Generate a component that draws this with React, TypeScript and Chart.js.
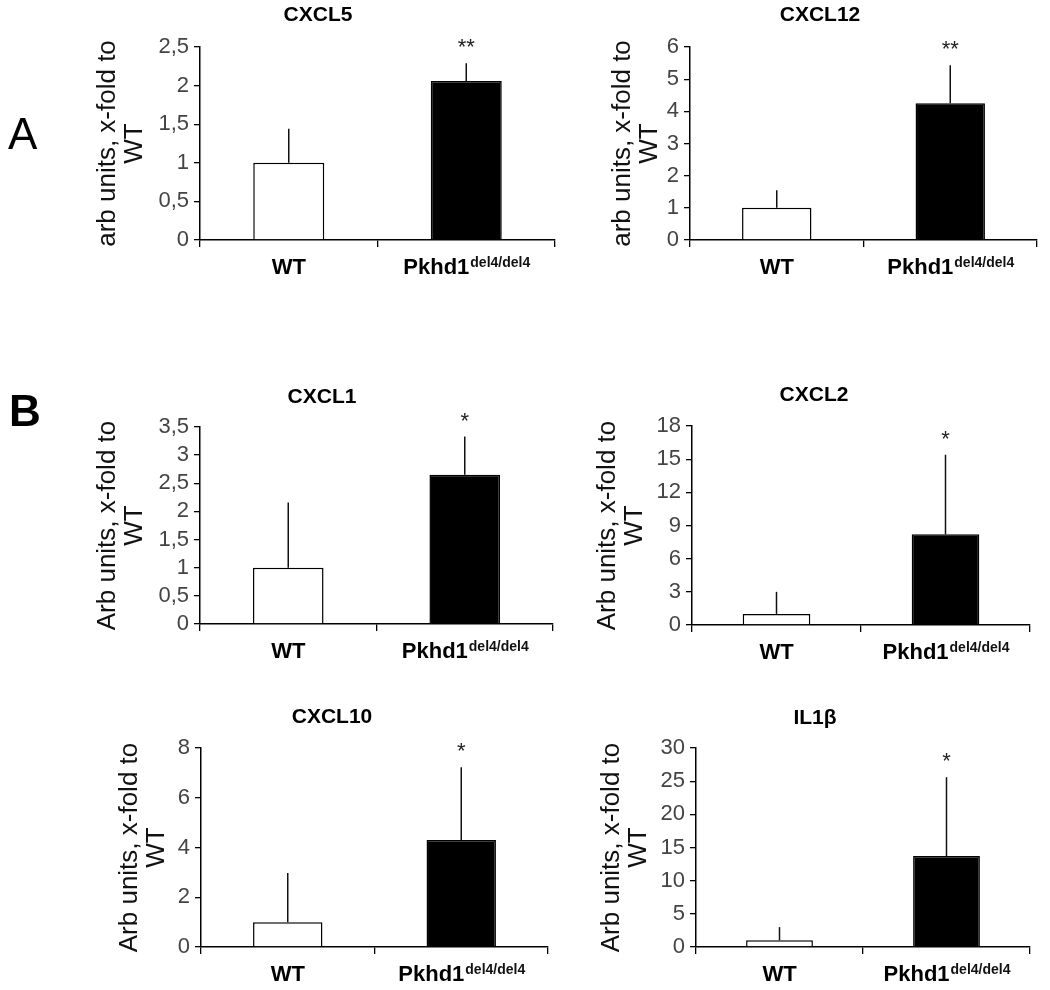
import React, { useEffect, useRef } from 'react';
import { Chart, registerables } from 'chart.js';

Chart.register(...registerables);

const FONT = "'Liberation Sans', Arial, Helvetica, sans-serif";

// ---------- data ----------
const groups = ['WT', 'Pkhd1'];
const groupSup = ['', 'del4/del4'];

const yTitleA = ['arb units, x-fold to', 'WT'];
const yTitleB = ['Arb units, x-fold to', 'WT'];

const cxcl5Mean = [1.0, 2.06];
const cxcl5Err = [0.44, 0.23];
const cxcl5Stars = ['', '**'];
const cxcl5Ticks = ['0', '0,5', '1', '1,5', '2', '2,5'];

const cxcl12Mean = [1.0, 4.25];
const cxcl12Err = [0.55, 1.18];
const cxcl12Stars = ['', '**'];
const cxcl12Ticks = ['0', '1', '2', '3', '4', '5', '6'];

const cxcl1Mean = [1.0, 2.65];
const cxcl1Err = [1.16, 0.68];
const cxcl1Stars = ['', '*'];
const cxcl1Ticks = ['0', '0,5', '1', '1,5', '2', '2,5', '3', '3,5'];

const cxcl2Mean = [1.0, 8.2];
const cxcl2Err = [2.0, 7.2];
const cxcl2Stars = ['', '*'];
const cxcl2Ticks = ['0', '3', '6', '9', '12', '15', '18'];

const cxcl10Mean = [1.0, 4.3];
const cxcl10Err = [1.97, 2.93];
const cxcl10Stars = ['', '*'];
const cxcl10Ticks = ['0', '2', '4', '6', '8'];

const il1bMean = [1.0, 13.7];
const il1bErr = [2.0, 11.9];
const il1bStars = ['', '*'];
const il1bTicks = ['0', '5', '10', '15', '20', '25', '30'];

// ---------- layout (page coordinates) ----------
type Panel = {
  title: string;
  yTitle: string[];
  mean: number[];
  err: number[];
  stars: string[];
  ticks: string[];
  box: { left: number; top: number; w: number; h: number };
  area: { l: number; r: number; t: number; b: number };
  titleC: { x: number; y: number };
  yTitleX: number;
  xh: number;
};

const panels: Panel[] = [
  {
    title: 'CXCL5', yTitle: yTitleA, mean: cxcl5Mean, err: cxcl5Err, stars: cxcl5Stars, ticks: cxcl5Ticks,
    box: { left: 0, top: 0, w: 600, h: 300 }, area: { l: 200, r: 555, t: 47, b: 240 },
    titleC: { x: 318, y: 15 }, yTitleX: 108, xh: 45,
  },
  {
    title: 'CXCL12', yTitle: yTitleA, mean: cxcl12Mean, err: cxcl12Err, stars: cxcl12Stars, ticks: cxcl12Ticks,
    box: { left: 560, top: 0, w: 490, h: 300 }, area: { l: 690, r: 1037, t: 47, b: 240 },
    titleC: { x: 820, y: 15 }, yTitleX: 623, xh: 45,
  },
  {
    title: 'CXCL1', yTitle: yTitleB, mean: cxcl1Mean, err: cxcl1Err, stars: cxcl1Stars, ticks: cxcl1Ticks,
    box: { left: 0, top: 370, w: 600, h: 310 }, area: { l: 200, r: 553, t: 427, b: 624 },
    titleC: { x: 322, y: 397 }, yTitleX: 108, xh: 45,
  },
  {
    title: 'CXCL2', yTitle: yTitleB, mean: cxcl2Mean, err: cxcl2Err, stars: cxcl2Stars, ticks: cxcl2Ticks,
    box: { left: 560, top: 370, w: 490, h: 310 }, area: { l: 692, r: 1030, t: 426, b: 625 },
    titleC: { x: 814, y: 395 }, yTitleX: 608, xh: 45,
  },
  {
    title: 'CXCL10', yTitle: yTitleB, mean: cxcl10Mean, err: cxcl10Err, stars: cxcl10Stars, ticks: cxcl10Ticks,
    box: { left: 0, top: 680, w: 600, h: 310 }, area: { l: 201, r: 548, t: 748, b: 947 },
    titleC: { x: 332, y: 717 }, yTitleX: 130, xh: 40,
  },
  {
    title: 'IL1β', yTitle: yTitleB, mean: il1bMean, err: il1bErr, stars: il1bStars, ticks: il1bTicks,
    box: { left: 560, top: 680, w: 490, h: 310 }, area: { l: 696, r: 1030, t: 748, b: 947 },
    titleC: { x: 815, y: 718 }, yTitleX: 612, xh: 40,
  },
];

const TITLE_SIZE = 21;
const TITLE_LH = TITLE_SIZE * 1.2;
const YT_SIZE = 26;
const YT_LH_MUL = 1.05;
const YT_LH = YT_SIZE * YT_LH_MUL;

const toNum = (s: string) => parseFloat(s.replace(',', '.'));

function annotatePlugin(p: Panel) {
  return {
    id: 'annot',
    afterDatasetsDraw(chart: any) {
      const { ctx } = chart;
      const xs = chart.scales.x;
      const ys = chart.scales.y;
      ctx.save();
      p.mean.forEach((m, i) => {
        const px = xs.getPixelForValue(i);
        const yBar = ys.getPixelForValue(m);
        const yTop = ys.getPixelForValue(m + p.err[i]);
        ctx.strokeStyle = '#111';
        ctx.lineWidth = 1.5;
        ctx.beginPath();
        ctx.moveTo(px, yBar);
        ctx.lineTo(px, yTop);
        ctx.stroke();
        if (p.stars[i]) {
          ctx.fillStyle = '#222';
          ctx.font = `22px ${FONT}`;
          ctx.textAlign = 'center';
          ctx.textBaseline = 'alphabetic';
          ctx.fillText(p.stars[i], px, yTop - 9);
        }
      });
      const base = ys.getPixelForValue(0);
      groups.forEach((g, i) => {
        const px = xs.getPixelForValue(i);
        ctx.font = `bold 22px ${FONT}`;
        const w1 = ctx.measureText(g).width;
        ctx.font = `bold 14px ${FONT}`;
        const w2 = groupSup[i] ? ctx.measureText(groupSup[i]).width : 0;
        const start = px - (w1 + w2) / 2;
        ctx.textAlign = 'left';
        ctx.textBaseline = 'alphabetic';
        ctx.fillStyle = '#000';
        ctx.font = `bold 22px ${FONT}`;
        ctx.fillText(g, start, base + 34);
        if (groupSup[i]) {
          ctx.font = `bold 14px ${FONT}`;
          ctx.fillStyle = '#111';
          ctx.fillText(groupSup[i], start + w1 + 1, base + 27);
        }
      });
      ctx.restore();
    },
  };
}

function makeConfig(p: Panel): any {
  const bl = p.box.left;
  const bt = p.box.top;
  const padLeft = 2 * p.titleC.x - bl - p.area.r;
  const padRight = bl + p.box.w - p.area.r;
  const yWidth = p.area.l - bl - padLeft;
  const padBottom = bt + p.box.h - p.area.b - p.xh;
  const tPadTop = p.titleC.y - bt - TITLE_LH / 2;
  const tPadBottom = p.area.t - bt - tPadTop - TITLE_LH;
  const yTitlePadTop = p.yTitleX - (bl + padLeft) - YT_LH / 2;

  return {
    type: 'bar',
    data: {
      labels: groups,
      datasets: [
        {
          data: p.mean,
          backgroundColor: ['#ffffff', '#000000'],
          borderColor: '#000000',
          borderWidth: 1.5,
          barPercentage: 0.4,
          categoryPercentage: 1,
        },
      ],
    },
    options: {
      responsive: false,
      maintainAspectRatio: false,
      animation: false,
      events: [],
      layout: { padding: { left: padLeft, right: padRight, top: 0, bottom: padBottom } },
      plugins: {
        legend: { display: false },
        tooltip: { enabled: false },
        title: {
          display: true,
          text: p.title,
          color: '#000',
          font: { family: FONT, size: TITLE_SIZE, weight: 'bold', lineHeight: 1.2 },
          padding: { top: tPadTop, bottom: tPadBottom },
        },
      },
      scales: {
        x: {
          type: 'category',
          offset: true,
          grid: {
            display: true,
            offset: true,
            drawOnChartArea: false,
            drawTicks: true,
            tickLength: 7,
            color: '#000',
            lineWidth: 1.3,
          },
          border: { display: true, color: '#000', width: 1.5 },
          ticks: { display: false },
          afterFit: (s: any) => {
            s.height = p.xh;
          },
        },
        y: {
          type: 'linear',
          min: 0,
          max: toNum(p.ticks[p.ticks.length - 1]),
          afterBuildTicks: (s: any) => {
            s.ticks = p.ticks.map((t) => ({ value: toNum(t) }));
          },
          grid: {
            display: true,
            drawOnChartArea: false,
            drawTicks: true,
            tickLength: 6,
            color: '#000',
            lineWidth: 1.3,
          },
          border: { display: true, color: '#000', width: 1.5 },
          ticks: {
            color: '#444',
            padding: 5,
            autoSkip: false,
            font: { family: FONT, size: 22, lineHeight: 1 },
            callback: (_v: any, i: number) => p.ticks[i],
          },
          title: {
            display: true,
            text: p.yTitle,
            color: '#111',
            font: { family: FONT, size: YT_SIZE, lineHeight: YT_LH_MUL },
            padding: { top: yTitlePadTop, bottom: 0 },
          },
          afterFit: (s: any) => {
            s.width = yWidth;
          },
        },
      },
    },
    plugins: [annotatePlugin(p)],
  };
}

function PanelChart({ p }: { p: Panel }) {
  const ref = useRef<HTMLCanvasElement | null>(null);
  useEffect(() => {
    if (!ref.current) return;
    const chart = new Chart(ref.current, makeConfig(p));
    return () => chart.destroy();
  }, [p]);
  return (
    <canvas
      ref={ref}
      width={p.box.w}
      height={p.box.h}
      style={{
        position: 'absolute',
        left: p.box.left,
        top: p.box.top,
        width: p.box.w,
        height: p.box.h,
      }}
    />
  );
}

export default function App() {
  return (
    <div
      style={{
        position: 'absolute',
        left: 0,
        top: 0,
        width: 1050,
        height: 990,
        background: '#fff',
        overflow: 'hidden',
        fontFamily: FONT,
      }}
    >
      {panels.map((p, i) => (
        <PanelChart key={i} p={p} />
      ))}
      <div style={{ position: 'absolute', left: 8, top: 112, fontSize: 44, lineHeight: 1, color: '#000' }}>A</div>
      <div style={{ position: 'absolute', left: 9, top: 389, fontSize: 44, lineHeight: 1, fontWeight: 'bold', color: '#000' }}>B</div>
    </div>
  );
}
